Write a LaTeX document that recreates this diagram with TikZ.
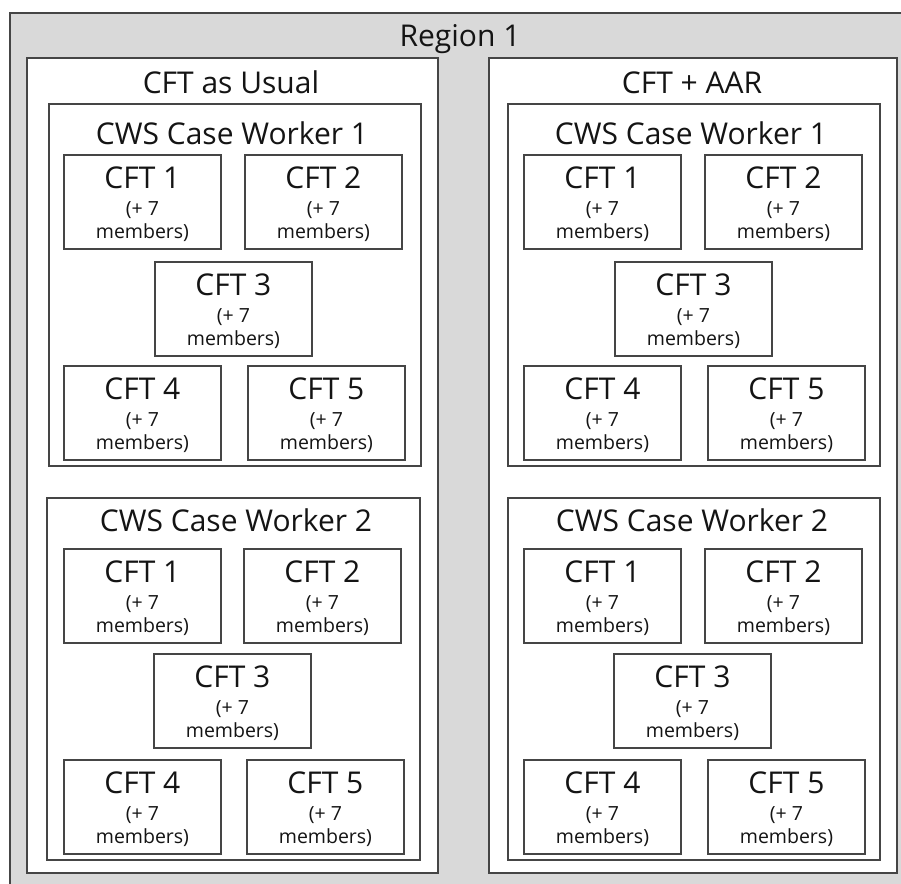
\documentclass[tikz,border=0pt]{standalone}
\usepackage{fontspec}
\setmainfont{Open Sans}
\definecolor{edge}{gray}{0.27}
\definecolor{ink}{gray}{0.08}
\definecolor{regionfill}{gray}{0.85}
\tikzset{
  frame/.style={draw=edge, line width=1.9pt, fill=white, inner sep=0pt, anchor=north west},
  teambox/.style={frame, minimum width=157pt, minimum height=94pt},
  bigtext/.style={inner sep=0pt, anchor=base, font=\fontsize{30}{32}\selectfont, text=ink},
  smalltext/.style={inner sep=0pt, anchor=base, font=\fontsize{19.5}{21}\selectfont, text=ink},
}
% one team box: name, left x, top y, number
\newcommand\teamunit[4]{%
  \node[teambox] (#1) at (#2,#3) {};
  \node[bigtext] (#1-t) at ([yshift=-34pt]#1.north) {CFT #4};
  \node[smalltext] (#1-a) at ([yshift=-61pt]#1.north) {(+ 7};
  \node[smalltext] (#1-b) at ([yshift=-84pt]#1.north) {members)};
}
% a container box given by its corners
\newcommand\container[5]{%
  \node[frame, minimum width=#4pt-#2pt, minimum height=#5pt-#3pt] (#1) at (#2,#3) {};
}
\begin{document}
\begin{tikzpicture}[x=1pt, y=-1pt]
  \useasboundingbox (0,0) rectangle (901,883);
  \clip (0,0) rectangle (901,883);
  \fill[white] (0,0) rectangle (901,883);

  % region frame (runs past the right and bottom edges)
  \node[frame, fill=regionfill, minimum width=920pt, minimum height=900pt] (region) at (9,12) {};
  \node[bigtext] (region-t) at (460,46) {Region 1};

  % ---- left panel ----
  \container{usual}{26}{57}{437}{872}
  \node[bigtext] (usual-t) at (231,93) {CFT as Usual};

  \container{uA}{48}{103}{420}{465}
  \node[bigtext] (uA-t) at (232,144) {CWS Case Worker 1};
  \teamunit{uA1}{63}{154}{1}
  \teamunit{uA2}{244}{154}{2}
  \teamunit{uA3}{154}{261}{3}
  \teamunit{uA4}{63}{365}{4}
  \teamunit{uA5}{247}{365}{5}

  \container{uB}{46}{497}{419}{859}
  \node[bigtext] (uB-t) at (236,531) {CWS Case Worker 2};
  \teamunit{uB1}{63}{548}{1}
  \teamunit{uB2}{243}{548}{2}
  \teamunit{uB3}{153}{653}{3}
  \teamunit{uB4}{63}{759}{4}
  \teamunit{uB5}{246}{759}{5}

  % ---- right panel ----
  \container{aar}{488}{57}{896}{872}
  \node[bigtext] (aar-t) at (692,93) {CFT + AAR};

  \container{aA}{507}{103}{879}{465}
  \node[bigtext] (aA-t) at (691,144) {CWS Case Worker 1};
  \teamunit{aA1}{523}{154}{1}
  \teamunit{aA2}{704}{154}{2}
  \teamunit{aA3}{614}{261}{3}
  \teamunit{aA4}{523}{365}{4}
  \teamunit{aA5}{707}{365}{5}

  \container{aB}{507}{497}{879}{859}
  \node[bigtext] (aB-t) at (692,531) {CWS Case Worker 2};
  \teamunit{aB1}{523}{548}{1}
  \teamunit{aB2}{704}{548}{2}
  \teamunit{aB3}{613}{653}{3}
  \teamunit{aB4}{523}{759}{4}
  \teamunit{aB5}{707}{759}{5}
\end{tikzpicture}
\end{document}
